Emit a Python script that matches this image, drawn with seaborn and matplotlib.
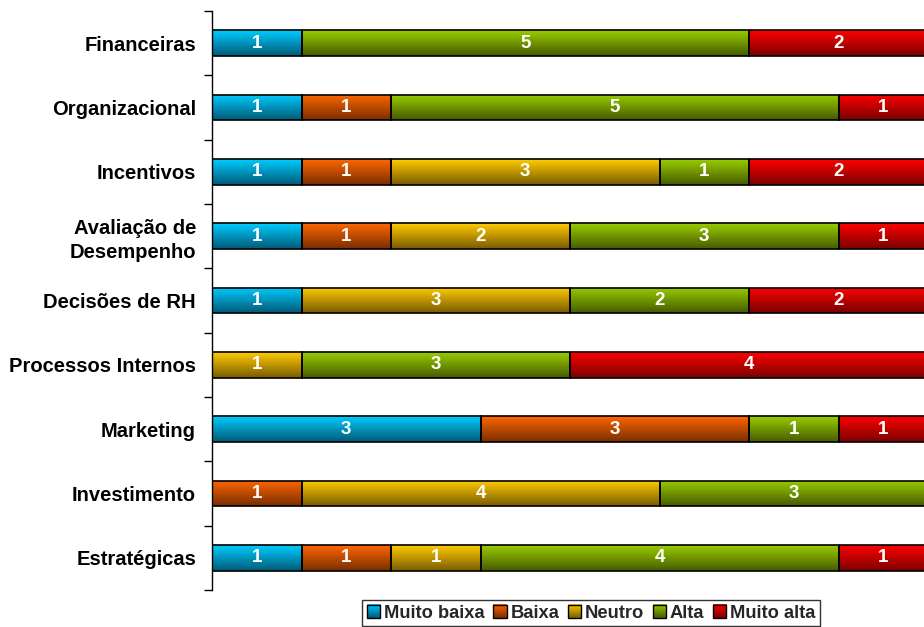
import numpy as np
import pandas as pd
import matplotlib
matplotlib.use("Agg")
import matplotlib.pyplot as plt
import seaborn as sns
from matplotlib.colors import LinearSegmentedColormap
from matplotlib.patches import Rectangle
from matplotlib.legend_handler import HandlerBase
from matplotlib.image import BboxImage
from matplotlib.transforms import Bbox, TransformedBbox

categories = ["Financeiras", "Organizacional", "Incentivos", "Avaliação de\nDesempenho",
              "Decisões de RH", "Processos Internos", "Marketing", "Investimento", "Estratégicas"]
levels = ["Muito baixa", "Baixa", "Neutro", "Alta", "Muito alta"]
muito_baixa = [1, 1, 1, 1, 1, 0, 3, 0, 1]
baixa = [0, 1, 1, 1, 0, 0, 3, 1, 1]
neutro = [0, 0, 3, 2, 3, 1, 0, 4, 1]
alta = [5, 5, 1, 3, 2, 3, 1, 3, 4]
muito_alta = [2, 1, 2, 1, 2, 4, 1, 0, 1]
series = [muito_baixa, baixa, neutro, alta, muito_alta]

light = ["#00CCFF", "#FF6600", "#FFCC00", "#99CC00", "#FF0000"]
dark = ["#005A78", "#7A2E00", "#7A5C00", "#465C00", "#7A0000"]

df = pd.DataFrame({"Categoria": categories})
for lv, vals in zip(levels, series):
    df[lv] = vals

sns.set_theme(style="white")
plt.rcParams["font.family"] = ["Liberation Sans", "DejaVu Sans"]

fig = plt.figure(figsize=(9.24, 6.27), dpi=100)
ax = fig.add_axes([212 / 924, 1 - 590 / 627, (928 - 212) / 924, (590 - 11) / 627])

grad = np.linspace(0, 1, 64).reshape(-1, 1)
left = np.zeros(len(categories))
for i, lv in enumerate(levels):
    sns.barplot(data=df, y="Categoria", x=lv, order=categories, orient="y",
                left=left, width=0.4, color=light[i], edgecolor="black",
                linewidth=1.2, saturation=1, ax=ax, zorder=2)
    cont = ax.containers[-1]
    cmap = LinearSegmentedColormap.from_list(lv, [light[i], dark[i]])
    for p, v in zip(cont.patches, df[lv]):
        if v == 0:
            p.set_visible(False)
            continue
        x0, y0, w, h = p.get_x(), p.get_y(), p.get_width(), p.get_height()
        im = ax.imshow(grad, cmap=cmap, aspect="auto", origin="upper",
                       extent=(x0, x0 + w, y0 + h, y0), zorder=1.5, interpolation="bilinear")
        im.set_clip_path(p)
        p.set_facecolor("none")
        p.set_zorder(3)
    ax.bar_label(cont, labels=[str(v) if v else "" for v in df[lv]], label_type="center",
                 color="white", fontweight="bold", fontsize=13.5, zorder=4)
    left = left + df[lv].to_numpy()

ax.set_xlim(0, 8)
ax.set_ylim(len(categories) - 0.5, -0.5)
ax.set_xlabel("")
ax.set_ylabel("")
ax.set_xticks([])
for s in ["top", "right", "bottom"]:
    ax.spines[s].set_visible(False)
ax.spines["left"].set_color("black")
ax.spines["left"].set_linewidth(1.0)
ax.set_yticks(range(len(categories)))
ax.set_yticklabels(categories, fontweight="bold", fontsize=14.5, color="black")
ax.set_yticks(np.arange(-0.5, len(categories), 1), minor=True)
ax.tick_params(axis="y", which="major", length=0, pad=11.5)
ax.tick_params(axis="y", which="minor", left=True, length=6, width=1, color="black", direction="out")
for t in ax.get_yticklabels():
    t.set_multialignment("right")
    t.set_linespacing(1.3)


class GradHandler(HandlerBase):
    def __init__(self, c1, c2):
        super().__init__()
        self.c1, self.c2 = c1, c2

    def create_artists(self, legend, orig_handle, xdescent, ydescent, width, height, fontsize, trans):
        s = min(width, height) * 1.0
        x = -xdescent + (width - s) / 2
        y = -ydescent + (height - s) / 2
        bb = TransformedBbox(Bbox.from_bounds(x, y, s, s), trans)
        img = BboxImage(bb, cmap=LinearSegmentedColormap.from_list("g", [self.c1, self.c2]),
                        interpolation="bilinear")
        img.set_data(grad)
        rect = Rectangle((x, y), s, s, facecolor="none", edgecolor="black", linewidth=1.0, transform=trans)
        return [img, rect]


handles = [Rectangle((0, 0), 1, 1) for _ in levels]
hmap = {h: GradHandler(light[i], dark[i]) for i, h in enumerate(handles)}
leg = fig.legend(handles, levels, handler_map=hmap, loc="upper center", ncol=5,
                 bbox_to_anchor=(591 / 924, 1 - 600 / 627), frameon=True, fancybox=False,
                 edgecolor="black", prop={"weight": "bold", "size": 13.2},
                 handlelength=0.75, handleheight=0.75, handletextpad=0.2, columnspacing=0.45,
                 borderpad=0.25, borderaxespad=0)
leg.get_frame().set_linewidth(1.0)

fig.savefig("out.png", dpi=100)
